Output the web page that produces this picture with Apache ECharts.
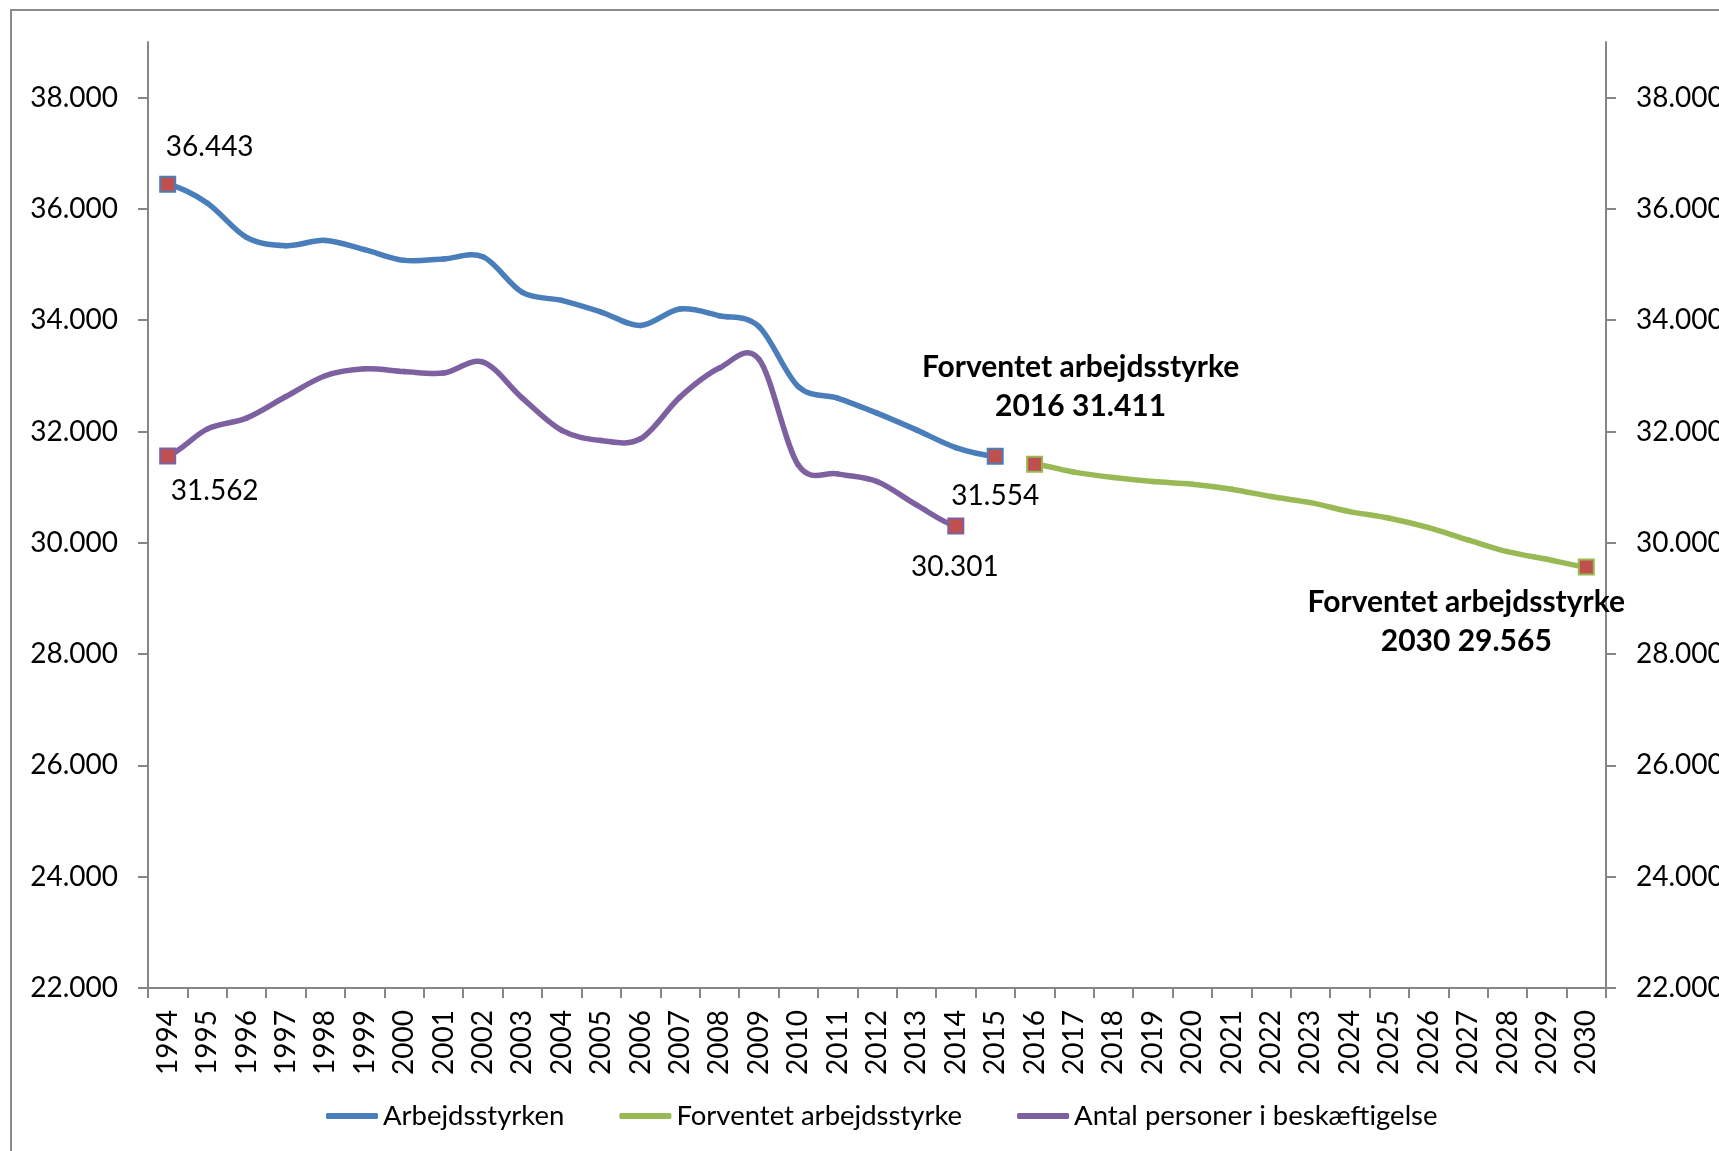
<!DOCTYPE html>
<html>
<head>
<meta charset="utf-8">
<script src="https://cdn.jsdelivr.net/npm/echarts@6/dist/echarts.min.js"></script>
<style>
  html, body { margin: 0; padding: 0; background: #fff; }
  #chart { width: 1719px; height: 1151px; }
</style>
</head>
<body>
<div id="chart"></div>
<script>
// categories (years) and y-axis ticks
const years = ['1994', '1995', '1996', '1997', '1998', '1999', '2000', '2001', '2002', '2003',
  '2004', '2005', '2006', '2007', '2008', '2009', '2010', '2011', '2012', '2013', '2014',
  '2015', '2016', '2017', '2018', '2019', '2020', '2021', '2022', '2023', '2024', '2025',
  '2026', '2027', '2028', '2029', '2030'];
const yTicks = [22000, 24000, 26000, 28000, 30000, 32000, 34000, 36000, 38000];

// series, first year of each
const seriesNames = ['Arbejdsstyrken', 'Forventet arbejdsstyrke', 'Antal personer i beskæftigelse'];
const arbejdsstyrken = [36443, 36108, 35490, 35340, 35435, 35268, 35076, 35101, 35140, 34500,
  34356, 34147, 33906, 34201, 34081, 33888, 32809, 32601, 32331, 32030, 31712, 31554];   // 1994-2015
const forventet = [31411, 31270, 31173, 31101, 31054, 30964, 30831, 30723, 30561, 30442,
  30273, 30052, 29842, 29705, 29565];                                                     // 2016-2030
const beskaeftigede = [31562, 32043, 32241, 32629, 33002, 33128, 33079, 33050, 33248, 32601,
  32020, 31838, 31870, 32619, 33140, 33302, 31401, 31239, 31101, 30682, 30301];           // 1994-2014
const startYears = ['1994', '2016', '1994'];

const FONT = 'Lato';
const fmt = v => String(Math.round(v)).replace(/\B(?=(\d{3})+(?!\d))/g, '.');

// label placement of the first / last point of each series
const endLabels = [
  [{ offset: [42, -37] }, { offset: [0, 40] }],
  [{ offset: [46, -77], bold: true }, { offset: [-120, 55], bold: true }],
  [{ offset: [47, 35] }, { offset: [-1, 41] }]
];
const colors = ['#4A7EBB', '#98B954', '#7D60A0'];

// excel style smoothed line: catmull-rom bezier through the points
function curveSeries(idx, values) {
  const start = years.indexOf(startYears[idx]);
  return {
    name: seriesNames[idx],
    type: 'custom',
    coordinateSystem: 'cartesian2d',
    color: colors[idx],
    encode: { x: 0, y: 1 },
    data: values.map((v, k) => [start + k, v]),
    z: 2,
    silent: true,
    renderItem: (params, api) => {
      const k = params.dataIndex;
      if (k >= values.length - 1) return null;
      const p = j => api.coord([start + j, values[Math.max(0, Math.min(values.length - 1, j))]]);
      const p0 = p(k - 1), p1 = p(k), p2 = p(k + 1), p3 = p(k + 2);
      return {
        type: 'bezierCurve',
        shape: {
          x1: p1[0], y1: p1[1], x2: p2[0], y2: p2[1],
          cpx1: p1[0] + (p2[0] - p0[0]) / 6, cpy1: p1[1] + (p2[1] - p0[1]) / 6,
          cpx2: p2[0] - (p3[0] - p1[0]) / 6, cpy2: p2[1] - (p3[1] - p1[1]) / 6
        },
        style: { fill: null, stroke: colors[idx], lineWidth: 5.5, lineCap: 'round' }
      };
    }
  };
}

// end markers and labels
function markerSeries(idx, values) {
  const start = years.indexOf(startYears[idx]);
  const data = years.map((y, i) => {
    const k = i - start;
    if (k < 0 || k >= values.length) return { value: null };
    const end = k === 0 ? 0 : (k === values.length - 1 ? 1 : -1);
    if (end < 0) return { value: values[k], symbol: 'none' };
    const lc = endLabels[idx][end];
    return {
      value: values[k],
      symbol: 'rect',
      symbolSize: 15,
      itemStyle: { color: '#C0504D', borderColor: colors[idx], borderWidth: 2 },
      label: {
        show: true,
        position: 'inside',
        offset: lc.offset,
        color: '#000',
        fontFamily: FONT,
        fontSize: lc.bold ? 30 : 28,
        fontWeight: lc.bold ? 'bold' : 'normal',
        lineHeight: 39,
        align: 'center',
        formatter: lc.bold ? (seriesNames[idx] + '\n' + y + ' ' + fmt(values[k])) : fmt(values[k])
      }
    };
  });
  return {
    name: seriesNames[idx],
    type: 'line',
    color: colors[idx],
    lineStyle: { opacity: 0 },
    symbol: 'rect',
    showSymbol: true,
    data: data,
    z: 3
  };
}

const axisGrey = '#868686';
const yAxisBase = {
  type: 'value',
  min: 22000,
  max: 39000,
  interval: 2000,
  splitLine: { show: false },
  axisLine: { show: true, lineStyle: { color: axisGrey, width: 2 } },
  axisTick: { show: true, length: 10, lineStyle: { color: axisGrey, width: 2 }, customValues: yTicks },
  axisLabel: {
    color: '#000', fontFamily: FONT, fontSize: 28, margin: 30,
    customValues: yTicks, formatter: v => fmt(v)
  }
};

const chart = echarts.init(document.getElementById('chart'));
chart.setOption({
  animation: false,
  backgroundColor: '#fff',
  graphic: [{
    type: 'rect',
    shape: { x: 11, y: 10, width: 2000, height: 2000 },
    style: { fill: 'none', stroke: '#8C8C8C', lineWidth: 2 },
    silent: true
  }],
  grid: { left: 148, right: 113, top: 42, bottom: 163, containLabel: false, outerBoundsMode: 'none' },
  legend: {
    left: 321,
    top: 1097,
    icon: 'roundRect',
    itemWidth: 52,
    itemHeight: 6,
    itemGap: 55,
    textStyle: { color: '#000', fontFamily: FONT, fontSize: 27.5 },
    data: seriesNames
  },
  xAxis: {
    type: 'category',
    data: years,
    boundaryGap: true,
    axisLine: { lineStyle: { color: axisGrey, width: 2 } },
    axisTick: { show: true, length: 10, lineStyle: { color: axisGrey, width: 2 } },
    axisLabel: { color: '#000', fontFamily: FONT, fontSize: 28, rotate: 90, margin: 22, interval: 0 }
  },
  yAxis: [
    Object.assign({}, yAxisBase, { position: 'left' }),
    Object.assign({}, yAxisBase, { position: 'right' })
  ],
  series: [
    curveSeries(0, arbejdsstyrken),
    curveSeries(1, forventet),
    curveSeries(2, beskaeftigede),
    markerSeries(0, arbejdsstyrken),
    markerSeries(1, forventet),
    markerSeries(2, beskaeftigede)
  ]
});
</script>
</body>
</html>
